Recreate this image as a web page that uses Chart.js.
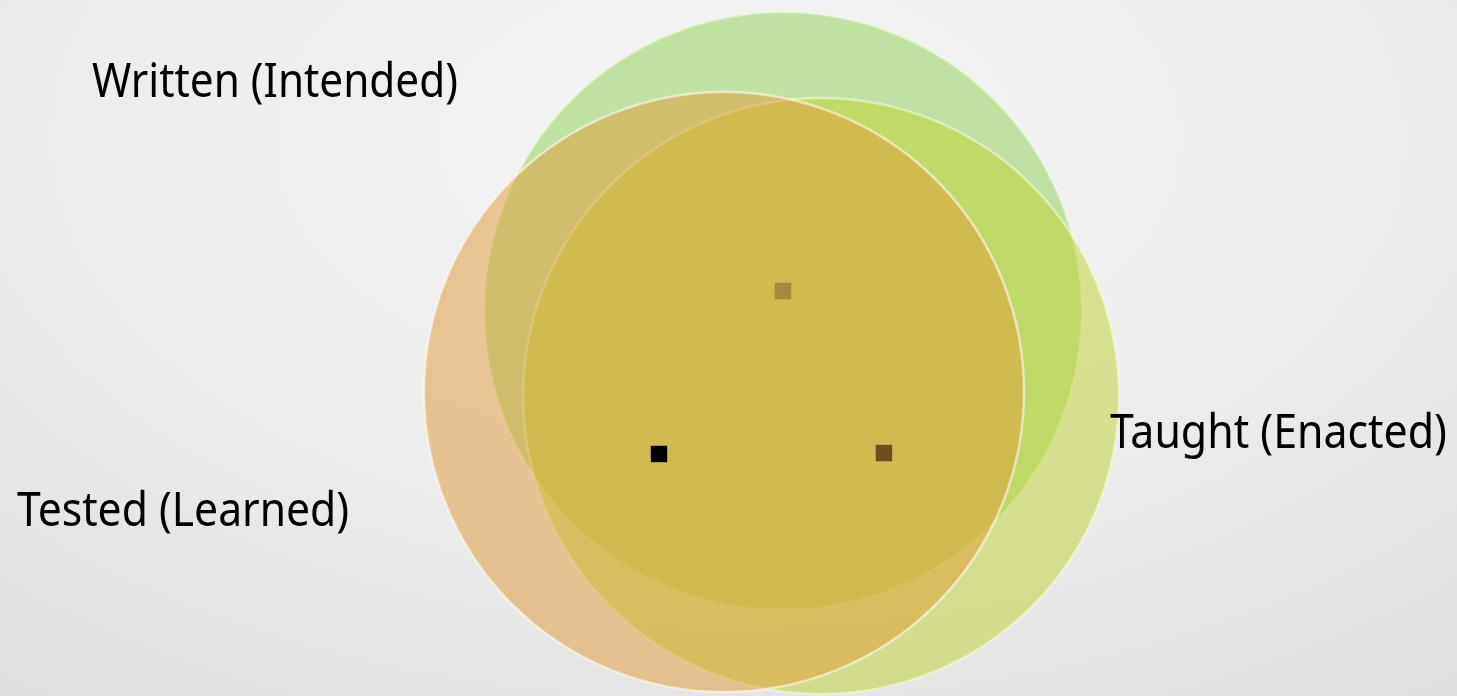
<!DOCTYPE html>
<html>
<head>
<meta charset="utf-8">
<script src="https://cdn.jsdelivr.net/npm/chart.js@4.4.1/dist/chart.umd.min.js"></script>
<style>
  html, body { margin: 0; padding: 0; }
  body {
    width: 1457px; height: 696px; overflow: hidden;
    background: radial-gradient(ellipse 90% 110% at 50% 20%, #f4f4f4 0%, #ececec 50%, #dcdcdc 100%);
  }
  #wrap { position: relative; width: 1457px; height: 696px; }
</style>
</head>
<body>
<div id="wrap"><canvas id="c"></canvas></div>
<script>
// Venn circles (centre in chart units 0-100, radius in px)
const circleNames = ["Written (Intended)", "Taught (Enacted)", "Tested (Learned)"];
const circleX = [53.74, 56.35, 49.69];
const circleY = [55.32, 43.10, 43.68];
const circleR = [299, 298, 300];
const circleColors = ["rgba(144,210,84,0.5)", "rgba(194,212,50,0.5)", "rgba(222,155,54,0.5)"];
const circleBorders = ["rgba(240,252,225,0.55)", "rgba(248,252,220,0.55)", "rgba(255,250,240,0.6)"];

// small square markers
const markerX = [53.74, 45.23, 60.67];
const markerY = [58.19, 34.77, 34.91];
const markerColors = ["#a8893a", "#000000", "#6e4c1e"];

// label anchor points (left/baseline)
const labelX = [6.31, 76.18, 1.17];
const labelY = [86.06, 35.63, 24.43];
const labelWidths = [366, 337, 332];

const labelPlugin = {
  id: 'vennLabels',
  afterDatasetsDraw(chart) {
    const ctx = chart.ctx;
    const xs = chart.scales.x, ys = chart.scales.y;
    ctx.save();
    ctx.fillStyle = '#000';
    ctx.textBaseline = 'alphabetic';
    ctx.textAlign = 'left';
    ctx.font = '47px "Noto Sans"';
    circleNames.forEach((t, i) => {
      const px = xs.getPixelForValue(labelX[i]);
      const py = ys.getPixelForValue(labelY[i]);
      const w = ctx.measureText(t).width;
      const sx = labelWidths[i] / w;
      ctx.save();
      ctx.translate(px, py);
      ctx.scale(sx, 1);
      ctx.fillText(t, 0, 0);
      ctx.restore();
    });
    ctx.restore();
  }
};

const circleDatasets = circleNames.map((n, i) => ({
  type: 'bubble',
  label: n,
  data: [{ x: circleX[i], y: circleY[i], r: circleR[i] }],
  backgroundColor: circleColors[i],
  borderColor: circleBorders[i],
  borderWidth: 2.5,
  order: 3 - i,
  clip: false
}));

new Chart(document.getElementById('c'), {
  type: 'bubble',
  data: {
    datasets: [
      {
        type: 'scatter',
        label: 'markers',
        data: markerX.map((x, i) => ({ x, y: markerY[i] })),
        backgroundColor: markerColors,
        borderWidth: 0,
        pointStyle: 'rect',
        pointRadius: 11.6,
        order: 0,
        clip: false
      },
      ...circleDatasets
    ]
  },
  options: {
    responsive: true,
    maintainAspectRatio: false,
    animation: false,
    events: [],
    layout: { padding: 0, autoPadding: false },
    plugins: { legend: { display: false }, tooltip: { enabled: false } },
    scales: {
      x: { type: 'linear', min: 0, max: 100, display: false },
      y: { type: 'linear', min: 0, max: 100, display: false }
    }
  },
  plugins: [labelPlugin]
});
</script>
</body>
</html>
